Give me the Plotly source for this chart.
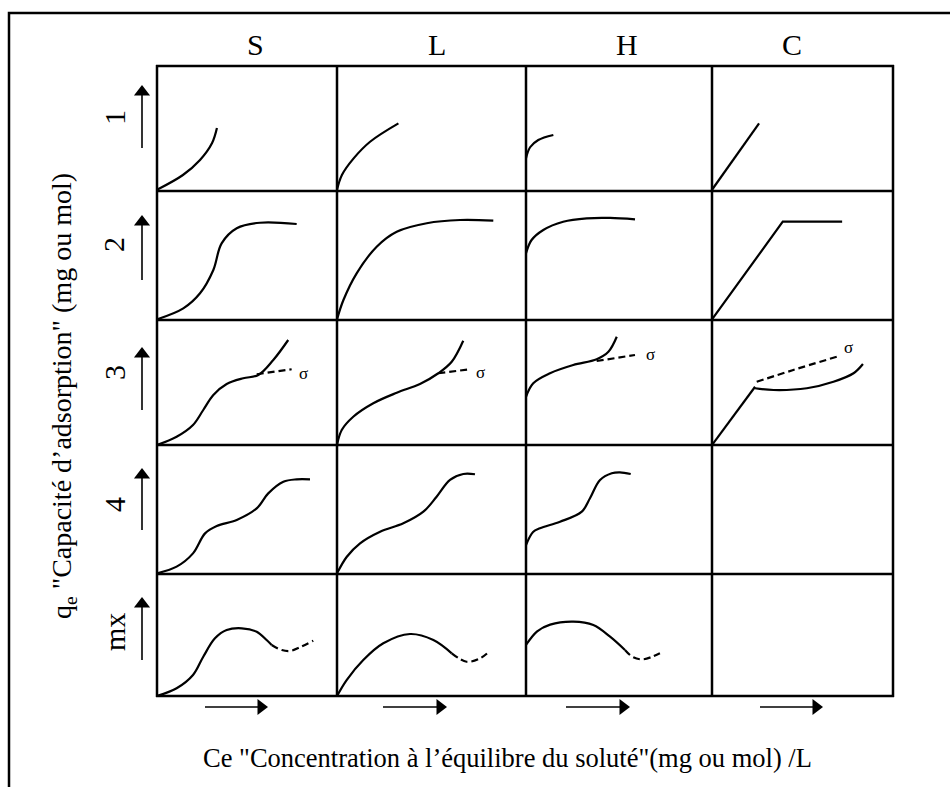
import plotly.graph_objects as go

W, H = 950, 787

# Isotherm classes (columns) and sub-groups (rows)
columns = ["S", "L", "H", "C"]
rows = ["1", "2", "3", "4", "mx"]

# Cell boundaries of the classification grid, in page pixels
col_edges = [157, 337, 526, 712, 893]
row_edges = [66, 191, 320, 445, 574, 696]

# Curve shapes, in cell units (x: Ce fraction, y: qe fraction)
S1_x = [0, 0.144, 0.239, 0.306, 0.333]
S1_y = [0.01, 0.128, 0.248, 0.384, 0.504]
L1_x = [0, 0.026, 0.088, 0.175, 0.325]
L1_y = [0.01, 0.128, 0.261, 0.394, 0.541]
H1_x = [0, 0.022, 0.066, 0.147]
H1_y = [0.262, 0.350, 0.408, 0.448]
C1_x = [0, 0.26]
C1_y = [0.01, 0.541]

S2_x = [0, 0.146, 0.239, 0.313, 0.359, 0.443, 0.572, 0.776]
S2_y = [0.005, 0.09, 0.207, 0.388, 0.594, 0.711, 0.754, 0.744]
L2_x = [0, 0.034, 0.104, 0.21, 0.316, 0.475, 0.651, 0.827]
L2_y = [0.005, 0.155, 0.362, 0.568, 0.684, 0.75, 0.775, 0.77]
H2_x = [0, 0.03, 0.093, 0.2, 0.326, 0.452, 0.586]
H2_y = [0.517, 0.62, 0.698, 0.762, 0.788, 0.791, 0.78]
C2_x = [0, 0.391, 0.719]
C2_y = [0.005, 0.762, 0.762]

S3_x = [0, 0.109, 0.2, 0.257, 0.313, 0.387, 0.479, 0.563, 0.646, 0.729]
S3_y = [0, 0.066, 0.16, 0.28, 0.4, 0.488, 0.534, 0.56, 0.68, 0.84]
S3_dash_x = [0.554, 0.748]
S3_dash_y = [0.566, 0.606]
L3_x = [0, 0.025, 0.086, 0.192, 0.316, 0.439, 0.536, 0.607, 0.668]
L3_y = [0, 0.12, 0.226, 0.334, 0.418, 0.488, 0.574, 0.666, 0.834]
L3_dash_x = [0.536, 0.704]
L3_dash_y = [0.574, 0.606]
H3_x = [0, 0.039, 0.129, 0.254, 0.380, 0.443, 0.488]
H3_y = [0.386, 0.494, 0.574, 0.64, 0.686, 0.746, 0.866]
H3_dash_x = [0.38, 0.586]
H3_dash_y = [0.672, 0.72]
C3_x = [0, 0.238]
C3_y = [0, 0.466]
C3_top_x = [0.238, 0.34, 0.524, 0.671, 0.782, 0.834]
C3_top_y = [0.454, 0.44, 0.454, 0.506, 0.574, 0.648]
C3_dash_x = [0.247, 0.449, 0.689]
C3_dash_y = [0.506, 0.6, 0.706]

S4_x = [0, 0.109, 0.2, 0.267, 0.332, 0.443, 0.554, 0.618, 0.702, 0.776, 0.85]
S4_y = [0.005, 0.057, 0.16, 0.315, 0.372, 0.419, 0.509, 0.625, 0.715, 0.734, 0.734]
L4_x = [0, 0.052, 0.122, 0.228, 0.351, 0.457, 0.527, 0.598, 0.668, 0.73]
L4_y = [0.005, 0.134, 0.238, 0.328, 0.393, 0.483, 0.599, 0.729, 0.775, 0.773]
H4_x = [0, 0.038, 0.075, 0.183, 0.3, 0.344, 0.398, 0.461, 0.505, 0.563]
H4_y = [0.225, 0.326, 0.354, 0.405, 0.483, 0.587, 0.729, 0.781, 0.788, 0.775]

Smx_x = [0, 0.109, 0.2, 0.257, 0.322, 0.387, 0.471, 0.554, 0.609, 0.637]
Smx_y = [0, 0.063, 0.172, 0.322, 0.473, 0.541, 0.555, 0.527, 0.459, 0.418]
Smx_dash_x = [0.637, 0.693, 0.739, 0.794, 0.868]
Smx_dash_y = [0.418, 0.377, 0.369, 0.399, 0.453]
Lmx_x = [0, 0.051, 0.139, 0.245, 0.386, 0.51, 0.607]
Lmx_y = [0, 0.131, 0.295, 0.432, 0.508, 0.459, 0.35]
Lmx_dash_x = [0.607, 0.686, 0.757, 0.81]
Lmx_dash_y = [0.35, 0.281, 0.309, 0.371]
Hmx_x = [0, 0.06, 0.13, 0.254, 0.362, 0.452, 0.532]
Hmx_y = [0.418, 0.53, 0.585, 0.609, 0.582, 0.486, 0.377]
Hmx_dash_x = [0.532, 0.577, 0.631, 0.72]
Hmx_dash_y = [0.377, 0.317, 0.301, 0.35]

# Position of the "σ" marks next to the dashed branches, in cell units
sigma_x = {(2, 0): 0.813, (2, 1): 0.76, (2, 2): 0.667, (2, 3): 0.753}
sigma_y = {(2, 0): 0.574, (2, 1): 0.578, (2, 2): 0.72, (2, 3): 0.782}

SMOOTH, STRAIGHT = "spline", "linear"

# Which curves go in which cell: (row, col) -> list of (x, y, dashed, shape)
cells = {
    (0, 0): [(S1_x, S1_y, False, SMOOTH)],
    (0, 1): [(L1_x, L1_y, False, SMOOTH)],
    (0, 2): [(H1_x, H1_y, False, SMOOTH)],
    (0, 3): [(C1_x, C1_y, False, STRAIGHT)],
    (1, 0): [(S2_x, S2_y, False, SMOOTH)],
    (1, 1): [(L2_x, L2_y, False, SMOOTH)],
    (1, 2): [(H2_x, H2_y, False, SMOOTH)],
    (1, 3): [(C2_x, C2_y, False, STRAIGHT)],
    (2, 0): [(S3_x, S3_y, False, SMOOTH), (S3_dash_x, S3_dash_y, True, SMOOTH)],
    (2, 1): [(L3_x, L3_y, False, SMOOTH), (L3_dash_x, L3_dash_y, True, SMOOTH)],
    (2, 2): [(H3_x, H3_y, False, SMOOTH), (H3_dash_x, H3_dash_y, True, SMOOTH)],
    (2, 3): [(C3_x, C3_y, False, STRAIGHT), (C3_top_x, C3_top_y, False, SMOOTH),
             (C3_dash_x, C3_dash_y, True, SMOOTH)],
    (3, 0): [(S4_x, S4_y, False, SMOOTH)],
    (3, 1): [(L4_x, L4_y, False, SMOOTH)],
    (3, 2): [(H4_x, H4_y, False, SMOOTH)],
    (3, 3): [],
    (4, 0): [(Smx_x, Smx_y, False, SMOOTH), (Smx_dash_x, Smx_dash_y, True, SMOOTH)],
    (4, 1): [(Lmx_x, Lmx_y, False, SMOOTH), (Lmx_dash_x, Lmx_dash_y, True, SMOOTH)],
    (4, 2): [(Hmx_x, Hmx_y, False, SMOOTH), (Hmx_dash_x, Hmx_dash_y, True, SMOOTH)],
    (4, 3): [],
}

SERIF = "Liberation Serif, Times New Roman, serif"
fig = go.Figure()
layout = {}
annotations = []


def note(x, y, text, size, angle=0, xref="paper", yref="paper"):
    annotations.append(dict(x=x, y=y, xref=xref, yref=yref, text=text,
                            textangle=angle, showarrow=False,
                            xanchor="center", yanchor="middle",
                            font=dict(family=SERIF, size=size, color="black")))


k = 0
for r in range(len(rows)):
    for c in range(len(columns)):
        k += 1
        xs = "" if k == 1 else str(k)
        x0, x1 = col_edges[c] / W, col_edges[c + 1] / W
        y0, y1 = 1 - row_edges[r + 1] / H, 1 - row_edges[r] / H
        axis_style = dict(range=[0, 1], visible=False, fixedrange=True)
        layout["xaxis" + xs] = dict(domain=[x0, x1], anchor="y" + xs, **axis_style)
        layout["yaxis" + xs] = dict(domain=[y0, y1], anchor="x" + xs, **axis_style)
        for cx, cy, dashed, shape in cells[(r, c)]:
            fig.add_trace(go.Scatter(
                x=cx, y=cy, mode="lines", xaxis="x" + xs, yaxis="y" + xs,
                line=dict(color="black", width=2.2, shape=shape,
                          dash="7px,4px" if dashed else "solid"),
                hoverinfo="skip", showlegend=False))
        if (r, c) in sigma_x:
            note(sigma_x[(r, c)], sigma_y[(r, c)], "σ", 17,
                 xref="x" + xs, yref="y" + xs)

# Overlay axis in page pixels for the grid, the frame and the direction arrows
ov = str(k + 1)
layout["xaxis" + ov] = dict(domain=[0, 1], range=[0, W], visible=False, fixedrange=True,
                            anchor="y" + ov)
layout["yaxis" + ov] = dict(domain=[0, 1], range=[H, 0], visible=False, fixedrange=True,
                            anchor="x" + ov)


def seg(xv, yv, width):
    fig.add_trace(go.Scatter(x=xv, y=yv, mode="lines", xaxis="x" + ov, yaxis="y" + ov,
                             cliponaxis=False, line=dict(color="black", width=width),
                             hoverinfo="skip", showlegend=False))


# Grid of the classification table
for gx in col_edges:
    seg([gx, gx], [row_edges[0] - 1, row_edges[-1] + 1], 2.5)
for gy in row_edges:
    seg([col_edges[0] - 1, col_edges[-1] + 1], [gy, gy], 2.5)

# Outer frame (top and left sides)
seg([9, 9, W + 5], [H + 5, 13, 13], 2.5)

# qe arrows beside each row label (base, tip)
up_x = 142
up_base = [148, 280, 410, 530, 660]
up_tip = [85, 215, 347, 468, 597]
for b, t in zip(up_base, up_tip):
    seg([up_x, up_x], [b, t + 8], 1.6)
    fig.add_trace(go.Scatter(x=[up_x], y=[t + 7], mode="markers",
                             xaxis="x" + ov, yaxis="y" + ov,
                             marker=dict(symbol="triangle-up", size=14, color="black",
                                         line=dict(width=0)),
                             hoverinfo="skip", showlegend=False))

# Ce arrows under each column (start, tip)
right_y = 707
right_start = [205, 383, 566, 760]
right_tip = [268, 447, 630, 823]
for s, t in zip(right_start, right_tip):
    seg([s, t - 8], [right_y, right_y], 1.6)
    fig.add_trace(go.Scatter(x=[t - 7], y=[right_y], mode="markers",
                             xaxis="x" + ov, yaxis="y" + ov,
                             marker=dict(symbol="triangle-right", size=14, color="black",
                                         line=dict(width=0)),
                             hoverinfo="skip", showlegend=False))

# Column headers
header_x = [255, 437, 627, 792]
for name, hx in zip(columns, header_x):
    note(hx / W, 1 - 44 / H, name, 30)

# Row labels, rotated
label_x = 114
label_y = [118, 245, 373, 505, 632]
for name, ly in zip(rows, label_y):
    note(label_x / W, 1 - ly / H, name, 30, angle=-90)

# Axis titles
note(63 / W, 1 - 396 / H, "q<sub>e</sub> \"Capacité d’adsorption\" (mg ou mol)", 28, angle=-90)
note(507 / W, 1 - 758 / H, "Ce \"Concentration à l’équilibre du soluté\"(mg ou mol) /L", 26.5)

fig.update_layout(
    width=W, height=H,
    margin=dict(l=0, r=0, t=0, b=0),
    paper_bgcolor="white", plot_bgcolor="rgba(0,0,0,0)",
    showlegend=False,
    annotations=annotations,
    **layout,
)

fig.write_html("out.html", config={"displayModeBar": False})
